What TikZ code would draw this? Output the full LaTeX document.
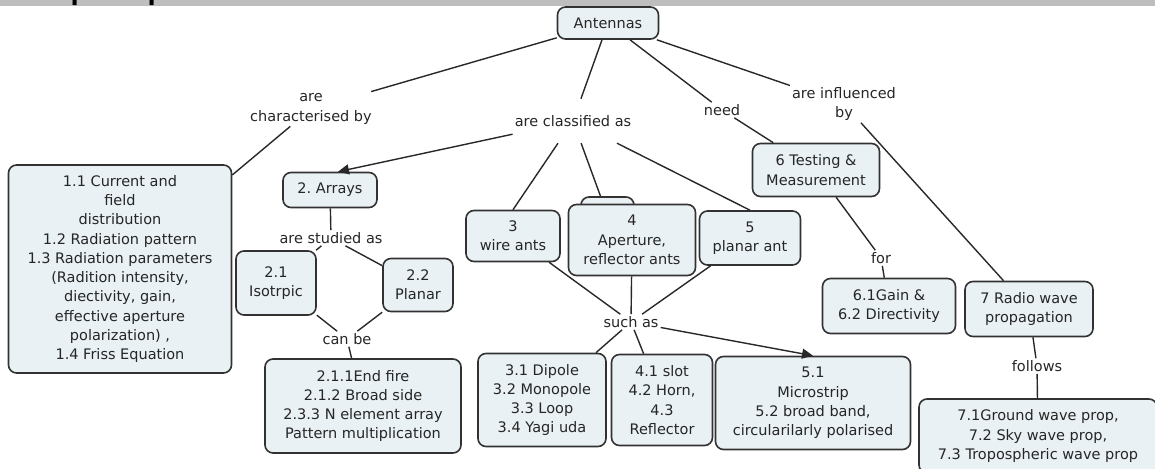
\documentclass[tikz,border=0pt]{standalone}
\usepackage{fontspec}
\setmainfont{DejaVu Sans}
\newfontfamily\titlefont{Liberation Sans}
\usetikzlibrary{arrows.meta, positioning}
\frenchspacing

\definecolor{conceptfill}{RGB}{233,241,244}
\definecolor{conceptdraw}{RGB}{50,50,50}
\definecolor{linkdraw}{RGB}{40,40,40}
\definecolor{titlebar}{RGB}{190,190,190}

\begin{document}
\begin{tikzpicture}[
    x=1pt, y=1pt, on grid,
    % Node styles
    concept/.style 2 args={
        rectangle, rounded corners=8pt,
        minimum width=#1pt, minimum height=#2pt,
        inner sep=0pt, align=center,
        font=\fontsize{14.5}{19.3}\selectfont, text=black!85,
        draw=conceptdraw, line width=1.6pt,
        fill=conceptfill,
    },
    linkphrase/.style={
        align=center, inner xsep=2pt, inner ysep=2pt,
        font=\fontsize{14.5}{19.3}\selectfont, text=black!85,
    },
    line/.style={
        draw=linkdraw, line width=1.4pt,
    },
    arrow/.style={
        line, -{Triangle[length=11pt, width=10pt]},
    },
]
\useasboundingbox (0,0) rectangle (1155,-468);

% === Title bar (cut off at the top) ===
\begin{scope}
    \clip (0,0) rectangle (1155,-468);
    \fill[titlebar] (0,0) rectangle (1155,-6);
    \node[anchor=base west, inner sep=0pt,
          font=\titlefont\bfseries\fontsize{29.5}{30}\selectfont]
          (title) at (-19.7,0.5) {Concept Map};
\end{scope}

% === Root ===
\node[concept={101}{32}] (ant) at (608,-23) {Antennas};

% === Characterised by ===
\node[linkphrase] (lchar) [below left=86pt and 297pt of ant] {are\\characterised by};
\node[concept={223}{208}] (c11) [below left=160pt and 191pt of lchar]
    {1.1 Current and\\field\\distribution\\1.2 Radiation pattern\\1.3 Radiation parameters\\(Radition intensity,\\diectivity, gain,\\effective aperture\\polarization) ,\\1.4 Friss Equation};

% === Classified as ===
\node[linkphrase, minimum height=44pt] (lclass) [below left=98pt and 35pt of ant] {are classified as};
\node[concept={94}{35}] (arrays) [below left=69pt and 243pt of lclass] {2. Arrays};
\node[concept={94}{51}] (c3) [below left=115pt and 60pt of lclass] {3\\wire ants};
\node[concept={53}{24}] (tab4) [below right=88pt and 34.5pt of lclass] {};
\node[concept={127}{71}] (c4) [below right=119pt and 59pt of lclass] {4\\Aperture,\\reflector ants};
\node[concept={101}{54}] (c5) [below right=117pt and 177pt of lclass] {5\\planar ant};

% === Arrays branch ===
\node[linkphrase] (lstud) [below right=48pt and 1pt of arrays] {are studied as};
\node[concept={80}{64}] (c21) [below left=45pt and 55pt of lstud] {2.1\\Isotrpic};
\node[concept={70}{53}] (c22) [below right=47pt and 87pt of lstud] {2.2\\Planar};
\node[linkphrase] (lcan) [below right=56pt and 71pt of c21] {can be};
\node[concept={196}{94}] (c211) [below right=67pt and 16pt of lcan]
    {2.1.1End fire\\2.1.2 Broad side\\2.3.3 N element array\\Pattern multiplication};

% === Such as ===
\node[linkphrase] (lsuch) [below left=82pt and 1pt of c4] {such as};
\node[concept={128}{93}] (c31) [below left=78pt and 89pt of lsuch] {3.1 Dipole\\3.2 Monopole\\3.3 Loop\\3.4 Yagi uda};
\node[concept={101}{91}] (c41) [below right=78pt and 31pt of lsuch] {4.1 slot\\4.2 Horn,\\4.3\\Reflector};
\node[concept={195}{93}] (c51) [below right=81pt and 182pt of lsuch] {5.1\\Microstrip\\5.2 broad band,\\circularilarly polarised};

% === Need ===
\node[linkphrase] (lneed) [below right=87pt and 114pt of ant] {need};
\node[concept={127}{53}] (c6) [below right=60pt and 94pt of lneed] {6 Testing \&\\Measurement};
\node[linkphrase] (lfor) [below right=88pt and 65pt of c6] {for};
\node[concept={133}{55}] (c61) [below right=48pt and 8pt of lfor] {6.1Gain \&\\6.2 Directivity};

% === Influenced by ===
\node[linkphrase] (linfl) [below right=81pt and 236pt of ant] {are influenced\\by};
\node[concept={128}{55}] (c7) [below right=205pt and 185pt of linfl] {7 Radio wave\\propagation};
\node[linkphrase] (lfol) [below right=57pt and 8pt of c7] {follows};
\node[concept={238}{74}] (c71) [below right=70pt and 1pt of lfol]
    {7.1Ground wave prop,\\7.2 Sky wave prop,\\7.3 Tropospheric wave prop};

% === Edges from root ===
\draw[line] (ant) -- (lchar);
\draw[line] (lchar) -- (c11);
\draw[line] (ant) -- (lclass);
\draw[line] (ant) -- (lneed);
\draw[line] (ant) -- (linfl);

% === Edges: classified as ===
\draw[arrow] ([yshift=9pt]lclass.south west) -- ([xshift=8pt]arrays.north);
\draw[line] (lclass) -- (c3.north);
\draw[line] (lclass) -- ([xshift=-7pt]tab4.north);
\draw[line] (lclass) -- (c5.north);

% === Edges: arrays ===
\draw[line] (arrays) -- (lstud);
\draw[line] (lstud) -- (c21);
\draw[line] (lstud) -- (c22);
\draw[line] (c21) -- (lcan);
\draw[line] (c22) -- (lcan);
\draw[line] (lcan) -- (c211);

% === Edges: such as ===
\draw[line] (c3) -- (lsuch);
\draw[line] (c4) -- (lsuch);
\draw[line] (c5) -- (lsuch);
\draw[line] (lsuch) -- (c31);
\draw[line] (lsuch) -- (c41);
\draw[arrow] (lsuch) -- (c51.north);

% === Edges: need, influenced by ===
\draw[line] (lneed) -- (c6);
\draw[line] (c6) -- (lfor);
\draw[line] (lfor) -- (c61);
\draw[line] (linfl) -- (c7);
\draw[line] (c7) -- (lfol);
\draw[line] (lfol) -- (c71);

\end{tikzpicture}
\end{document}
